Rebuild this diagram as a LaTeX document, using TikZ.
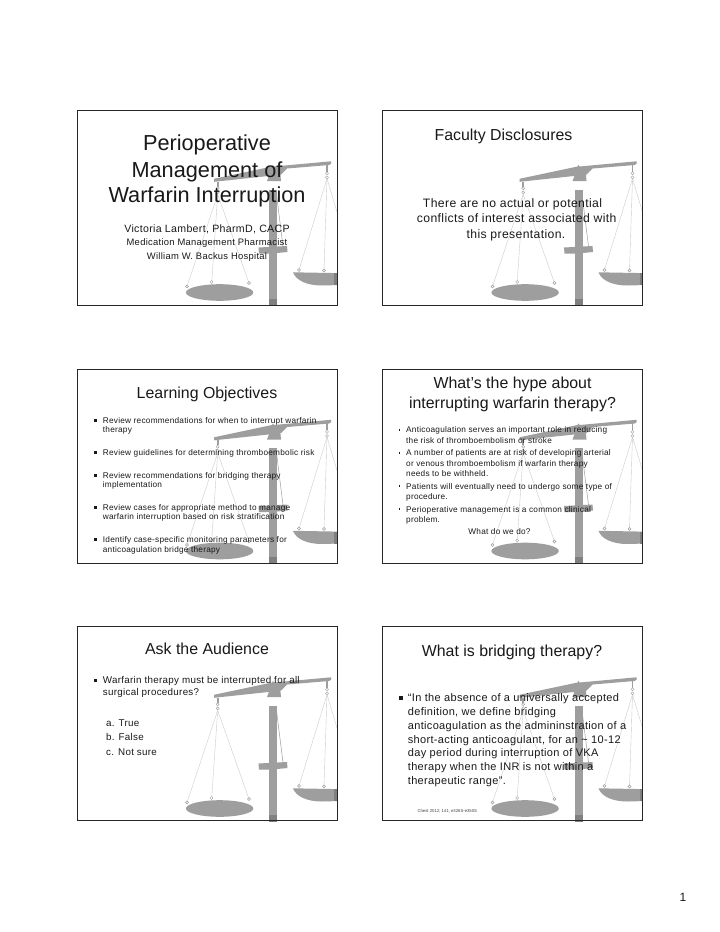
\documentclass[tikz,border=0pt]{standalone}
\usepackage{fontspec}
\setmainfont{Liberation Sans}
\newfontfamily\wide[LetterSpace=3]{Liberation Sans}
\definecolor{scalegray}{gray}{0.62}
\definecolor{scaledark}{gray}{0.5}
\definecolor{stringgray}{gray}{0.8}
\definecolor{inkgray}{gray}{0.1}
\tikzset{
  x=1pt,y=-1pt,
  slideframe/.style={draw=black!85,line width=0.9pt},
  ttl/.style={anchor=base,inner sep=0,text=inkgray,font=\fontsize{15.9}{18}\selectfont},
  bigttl/.style={anchor=base,inner sep=0,text=inkgray,font=\fontsize{21.7}{24}\selectfont},
  ln/.style={anchor=base west,inner sep=0,text=inkgray},
  ct/.style={anchor=base,inner sep=0,text=inkgray},
  fsm/.style={font=\wide\fontsize{8.25}{9}\selectfont},
  fsb/.style={font=\wide\fontsize{9.4}{10}\selectfont},
  fmd/.style={font=\wide\fontsize{9.8}{11}\selectfont},
  fau/.style={font=\wide\fontsize{10.6}{11}\selectfont},
  flg/.style={font=\wide\fontsize{11}{13}\selectfont},
  fxl/.style={font=\wide\fontsize{12.2}{14}\selectfont},
  str/.style={draw=stringgray,line width=0.4pt},
  ring/.style={draw=scalegray,fill=white,line width=0.4pt},
}
\newcommand{\scalewm}[2]{%
  \begin{scope}[shift={(#1,#2)}]
    \clip (0,0) rectangle (260,195);
    % strings
    \draw[str] (140.7,84) -- (110,176);
    \draw[str] (140.7,84) -- (134.7,171.5);
    \draw[str] (140.7,84) -- (172,172.5);
    \draw[str] (250,68) -- (222,159.5);
    \draw[str] (250,68) -- (247,160);
    \draw[str] (250,68) -- (260,101.5);
    % beam
    \fill[scalegray] (137,68.3) -- (195,56) -- (196,54.5) -- (197,56) -- (254,50.8) -- (254,53.3) -- (252,54.5) -- (210,58) -- (204,64) -- (196,65) -- (137,71.3) -- cycle;
    \fill[scalegray] (194,60) -- (203,60) -- (204,70.5) -- (190,70.5) -- cycle;
    \fill[scalegray] (139.9,71) rectangle (141.5,76);
    \fill[scalegray] (249.2,53.5) rectangle (250.8,61);
    % post
    \fill[scalegray] (192,79) rectangle (200,195);
    \fill[scaledark] (192,188) rectangle (200,195);
    \draw[scalegray,line width=0.5pt] (199,80) -- (206,136);
    \fill[scalegray] (181.5,137) -- (210,135.5) -- (210.5,141.5) -- (195,143) -- (182,143) -- cycle;
    % pans
    \fill[scalegray] (142.6,182) ellipse [x radius=33.7,y radius=8.3];
    \fill[scalegray] (216,161.8) -- (260,162.6) -- (260,174.6) -- (245,175) .. controls (230,175) and (219,170) .. cycle;
    \fill[scaledark] (257,162.5) rectangle (260,174.6);
    % rings
    \foreach \p in {(140.7,77.8),(140.7,81.8),(250,62.8),(250,66.8),(110,176),(134.7,171.5),(172,172.5),(222,159.5),(247,160)}
      \draw[ring] \p circle [radius=1.5];
  \end{scope}}
\begin{document}
\begin{tikzpicture}
\useasboundingbox (0,0) rectangle (720,932);
\fill[white] (0,0) rectangle (720,932);
\scalewm{77}{110.5}\scalewm{382.5}{110.5}
\scalewm{77}{369}\scalewm{382.5}{369}
\scalewm{77}{626.5}\scalewm{382.5}{626.5}

\draw[slideframe] (77,110.5) rectangle (337,305);
\draw[slideframe] (382.5,110.5) rectangle (642.5,305);
\draw[slideframe] (77,369) rectangle (337,563);
\draw[slideframe] (382.5,369) rectangle (642.5,563);
\draw[slideframe] (77,626) rectangle (337,820.5);
\draw[slideframe] (382.5,626) rectangle (642.5,820.5);

% slide 1
\node[bigttl] (a1) at (207,150.7) {Perioperative};
\node[bigttl] (a2) at (207,177) {Management of};
\node[bigttl] (a3) at (207,202.7) {Warfarin Interruption};
\node[ct,fau] (a4) at (207,232) {Victoria Lambert, PharmD, CACP};
\node[ct,fsb] (a5) at (207,245.7) {Medication Management Pharmacist};
\node[ct,fsb] (a6) at (207,259) {William W. Backus Hospital};

% slide 2
\node[ttl] (b1) at (503.5,140.5) {Faculty Disclosures};
\node[ct,fxl] (b2) at (512.5,207.3) {There are no actual or potential};
\node[ct,fxl] (b3) at (516.7,222.7) {conflicts of interest associated with};
\node[ct,fxl] (b4) at (516,238.3) {this presentation.};

% slide 3
\node[ttl] (c1) at (207,398.7) {Learning Objectives};
\foreach \n/\yy/\tx in {1/423/{Review recommendations for when to interrupt warfarin},2/432.3/{therapy},3/455/{Review guidelines for determining thromboembolic risk},4/478/{Review recommendations for bridging therapy},5/487.7/{implementation},6/510.3/{Review cases for appropriate method to manage},7/519.7/{warfarin interruption based on risk stratification},8/542.7/{Identify case-specific monitoring parameters for},9/552/{anticoagulation bridge therapy}}
  \node[ln,fsm] (c2\n) at (102.7,\yy) {\tx};
\foreach \n/\yy in {1/420,3/452,4/475,6/507.3,8/539.7}
  \fill[inkgray] (93.5,\yy-1.5) rectangle (96.5,\yy+1.5);

% slide 4
\node[ttl] (d1) at (512.5,388.7) {What’s the hype about};
\node[ttl] (d2) at (512.5,408.3) {interrupting warfarin therapy?};
\foreach \n/\yy/\tx in {1/432.7/{Anticoagulation serves an important role in reducing},2/443/{the risk of thromboembolism or stroke},3/455.7/{A number of patients are at risk of developing arterial},4/466/{or venous thromboembolism if warfarin therapy},5/476.3/{needs to be withheld.},6/489/{Patients will eventually need to undergo some type of},7/499.3/{procedure.},8/512/{Perioperative management is a common clinical},9/522.3/{problem.}}
  \node[ln,fsm] (d3\n) at (406,\yy) {\tx};
\foreach \n/\yy in {1/430,3/453,6/486,8/509}
  \fill[inkgray] (398.6,\yy-0.8) rectangle (400.2,\yy+0.8);
\node[ct,fsm] (d4) at (499.5,534.7) {What do we do?};

% slide 5
\node[ttl] (e1) at (207,654.5) {Ask the Audience};
\node[ln,fmd] (e2) at (102.7,683) {Warfarin therapy must be interrupted for all};
\node[ln,fmd] (e3) at (102.7,695.5) {surgical procedures?};
\fill[inkgray] (93.5,678.7) rectangle (96.5,681.7);
\node[ln,fmd] (e4) at (106,726) {a. True};
\node[ln,fmd] (e5) at (106,740.5) {b. False};
\node[ln,fmd] (e6) at (106,755) {c. Not sure};

% slide 6
\node[ttl] (f1) at (512,656) {What is bridging therapy?};
\foreach \n/\yy/\tx in {1/701/{“In the absence of a universally accepted},2/715/{definition, we define bridging},3/729/{anticoagulation as the admininstration of a},4/743/{short-acting anticoagulant, for an \textasciitilde{} 10-12},5/756.7/{day period during interruption of VKA},6/770.3/{therapy when the INR is not within a},7/784.3/{therapeutic range”.}}
  \node[ln,flg] (f2\n) at (407.7,\yy) {\tx};
\fill[inkgray] (399,696.2) rectangle (402.6,699.8);
\node[ln,font=\fontsize{4.25}{5}\selectfont,text=black!75] (f3) at (417.3,812.7) {Chest 2012; 141; e326S-e350S};

% page number
\node[ct,font=\fontsize{12}{14}\selectfont] (pg) at (683,901) {1};
\end{tikzpicture}
\end{document}
